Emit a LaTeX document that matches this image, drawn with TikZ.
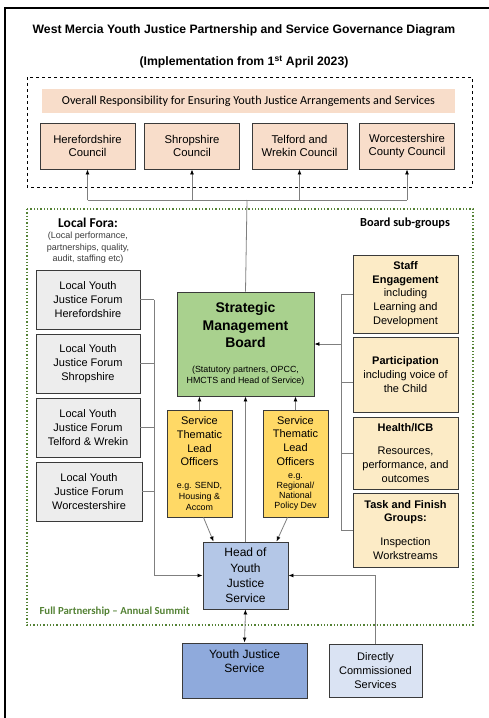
\documentclass[tikz,border=0pt]{standalone}
\usepackage{fontspec}
\setmainfont{Liberation Sans}
\newfontfamily\calfont[Ligatures=TeX]{Carlito}
\usetikzlibrary{arrows.meta, positioning}
\definecolor{yjedge}{HTML}{3A3A3A}
\definecolor{yjline}{HTML}{7F7F7F}
\definecolor{yjpeach}{HTML}{F8DDCA}
\definecolor{yjgrey}{HTML}{EDEDED}
\definecolor{yjgreen}{HTML}{A9D18E}
\definecolor{yjgold}{HTML}{FFD966}
\definecolor{yjcream}{HTML}{FCEBC6}
\definecolor{yjsky}{HTML}{B4C7E7}
\definecolor{yjblue}{HTML}{8FAADC}
\definecolor{yjpale}{HTML}{DAE3F3}
\definecolor{yjdots}{HTML}{548235}
\newcommand\smf{\fontsize{8.9}{10.7}\selectfont}

\begin{document}
\begin{tikzpicture}[x=1pt, y=-1pt, font=\fontsize{11}{13.7}\selectfont,
          box/.style={draw=yjedge, line width=.9pt, align=center, inner sep=2pt},
          cncl/.style={box, fill=yjpeach, minimum width=95pt, minimum height=46pt, font=\fontsize{11.3}{13.5}\selectfont},
          forum/.style={box, fill=yjgrey, minimum width=104pt, minimum height=59pt},
          sub/.style={box, fill=yjcream, minimum width=105pt},
          them/.style={box, fill=yjgold, minimum width=65pt, minimum height=107pt},
          lnk/.style={draw=yjline, line width=.8pt},
          arr/.style={lnk, -{Latex[black, length=5pt, width=4pt]}},
          lbl/.style={font=\calfont\bfseries\fontsize{12.3}{14}\selectfont}]
          \useasboundingbox (0,0) rectangle (488,718);
          \draw[line width=1.8pt] (5,8) rectangle (495,725);
          \node[font=\bfseries\fontsize{12.2}{14}\selectfont] (ttl) at (244,30) {West Mercia Youth Justice Partnership and Service Governance Diagram};
          \node[font=\bfseries\fontsize{12.2}{14}\selectfont] (sub) at (244,62) {(Implementation from 1\textsuperscript{st} April 2023)};
          \draw[dashed, line width=.7pt] (27,77) rectangle (472,187);
          \draw[dotted, yjdots, line width=1.3pt] (27,209) rectangle (473,625);
          \node[fill=yjpeach, minimum width=413pt, minimum height=24pt, font=\calfont\fontsize{12.2}{14}\selectfont] (resp) at (248.5,101) {Overall Responsibility for Ensuring Youth Justice Arrangements and Services};
          \node[cncl] (c1) at (87.5,146) {Herefordshire\\Council};
          \node[cncl] (c2) at (192,146) {Shropshire\\Council};
          \node[cncl] (c3) at (299.5,146) {Telford and\\Wrekin Council};
          \node[cncl] (c4) at (407,146) {Worcestershire\\County Council};
          \node[lbl, font=\calfont\bfseries\fontsize{13.5}{15}\selectfont] (fora) at (88,223) {Local Fora:};
          \node[align=center, font=\fontsize{9}{11.5}\selectfont, text=yjedge] (foranote) at (88,248) {(Local performance,\\partnerships, quality,\\audit, staffing etc)};
          \node[lbl] (subs) at (405,223) {Board sub-groups};
          \node[forum] (f1) at (88,299.5) {Local Youth\\Justice Forum\\Herefordshire};
          \node[forum] (f2) at (88,363.5) {Local Youth\\Justice Forum\\Shropshire};
          \node[forum] (f3) at (88,427.5) {Local Youth\\Justice Forum\\Telford \& Wrekin};
          \node[forum, minimum width=106pt] (f4) at (89,491.5) {Local Youth\\Justice Forum\\Worcestershire};
          \node[box, fill=yjgreen, minimum width=137pt, minimum height=104pt, font=\bfseries\fontsize{14}{17.3}\selectfont] (smb) at (245.5,344) {Strategic\\Management\\Board\\[7.7pt]\smf\mdseries (Statutory partners, OPCC,\\[-6.3pt]\smf\mdseries HMCTS and Head of Service)};
          \node[them] (t1) at (199.5,463.5) {Service\\Thematic\\Lead\\Officers\\[9.3pt]\smf e.g. SEND,\\[-3pt]\smf Housing \&\\[-3pt]\smf Accom};
          \node[them] (t2) at (295.5,463.5) {Service\\Thematic\\Lead\\Officers\\\smf e.g.\\[-3.7pt]\smf Regional/\\[-3.7pt]\smf National\\[-3.7pt]\smf Policy Dev};
          \node[sub, minimum height=78pt] (g1) at (405.5,294) {\textbf{Staff}\\\textbf{Engagement}\\including\\Learning and\\Development};
          \node[sub, minimum height=75pt] (g2) at (405.5,374.5) {\textbf{Participation}\\including voice of\\the Child};
          \node[sub, minimum height=72pt] (g3) at (405.5,453) {\textbf{Health/ICB}\\[9.3pt]Resources,\\performance, and\\outcomes};
          \node[sub, minimum height=74pt] (g4) at (405.5,530) {\textbf{Task and Finish}\\\textbf{Groups:}\\[10.3pt]Inspection\\Workstreams};
          \node[box, fill=yjsky, minimum width=85pt, minimum height=67pt, font=\fontsize{12}{15.3}\selectfont] (hoy) at (245.5,575.5) {Head of\\Youth\\Justice\\Service};
          \node[box, fill=yjblue, minimum width=125pt, minimum height=55pt, font=\fontsize{12}{14.3}\selectfont, text depth=19pt] (yjs) at (244.5,670.5) {Youth Justice\\Service};
          \node[box, fill=yjpale, minimum width=93pt, minimum height=53pt] (dcs) at (375.5,670.5) {Directly\\Commissioned\\Services};
          \node[anchor=west, font=\calfont\bfseries\fontsize{10.8}{12}\selectfont, text=yjdots] (summit) at (36,612) {Full Partnership – Annual Summit};
          % councils fed from the board
          \coordinate (jn) at (247,200);
          \draw[lnk] (smb.north) -- (jn);
          \draw[lnk] (c1.south |- jn) -- (c4.south |- jn);
          \foreach \c in {c1,c2,c3,c4} \draw[arr] (\c.south |- jn) -- (\c.south);
          % local fora into head of service
          \coordinate (fb) at (154,571);
          \foreach \f in {f1,f2,f3,f4} \draw[lnk] (\f.east) -- (\f.east -| fb);
          \draw[arr] (f1.east -| fb) |- (hoy.west);
          % sub-groups into the board
          \coordinate (gb) at (341,343);
          \draw[lnk] (g1.west) -- (g1.west -| gb) -- (g4.west -| gb) -- (g4.west);
          \draw[lnk] ([yshift=-8pt]g2.west) -- ([yshift=-8pt]g2.west -| gb);
          \draw[lnk] (g3.west) -- (g3.west -| gb);
          \draw[arr] (smb.east -| gb) -- (smb.east);
          \draw[arr] (t1.north) -- (t1.north |- smb.south);
          \draw[arr] (t2.north) -- (t2.north |- smb.south);
          \draw[arr] (hoy.north) -- (smb.south);
          \draw[arr] ([xshift=4pt]t1.south) -- ([xshift=-32pt]hoy.north);
          \draw[arr] ([xshift=-8pt]t2.south) -- ([xshift=31pt]hoy.north);
          \draw[lnk, {Latex[black, length=5pt, width=4pt]}-{Latex[black, length=5pt, width=4pt]}] (hoy.south) -- (yjs.north);
          \draw[arr] (dcs.north) |- (hoy.east);
\end{tikzpicture}
\end{document}
